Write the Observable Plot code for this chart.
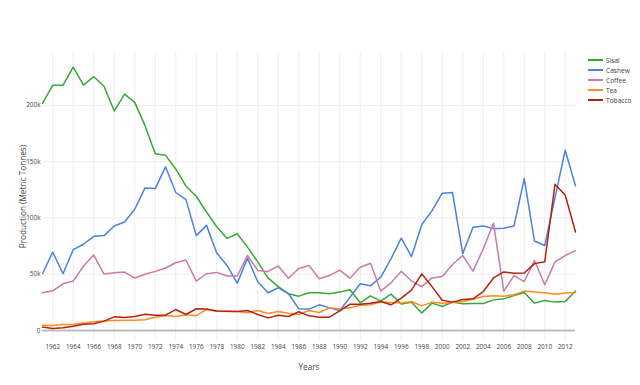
<!DOCTYPE html>
<html>
<head>
<meta charset="utf-8">
<script src="https://cdn.jsdelivr.net/npm/d3@7"></script>
<script src="https://cdn.jsdelivr.net/npm/@observablehq/plot@0.6"></script>
<style>
  html, body { margin: 0; padding: 0; background: #fff; }
  #wrap { position: relative; width: 640px; height: 385px; font-family: "Open Sans", sans-serif; }
  #legend { position: absolute; left: 588px; top: 55px; font-size: 6.6px; color: #444; }
  .item { display: flex; align-items: center; height: 10.1px; }
  .swatch { width: 15px; height: 2px; margin-right: 3px; }
  g[aria-label="x-axis label"] text, g[aria-label="y-axis label"] text { font-size: 8.2px; }
</style>
</head>
<body>
<div id="wrap"><div id="legend"></div></div>
<script>
const years = d3.range(1961, 2014);
const seriesNames = ["Sisal", "Cashew", "Coffee", "Tea", "Tobacco"];
const seriesColors = ["#35a835", "#4a82e0", "#cc7aa6", "#ff8c1e", "#b3230f"];
const xTicks = [1962,1964,1966,1968,1970,1972,1974,1976,1978,1980,1982,1984,1986,1988,1990,1992,1994,1996,1998,2000,2002,2004,2006,2008,2010,2012];
const yTicks = [0, 50, 100, 150, 200];

// values in thousands of metric tonnes, 1961..2013
const sisal = [201.8,218,218,234,218,225.5,217,195,210,202.7,182,157,155.6,143.5,128.2,119.3,105.3,92.2,81.8,85.9,74.1,61,46.7,39,32.6,30.5,33.5,33.5,32.6,34.1,36.2,24.6,30.8,26.1,32.3,23.5,25,15.6,24.3,21.3,25.2,23.7,24,24,27.2,28.1,31.1,33.8,24.3,26.6,25.2,25.8,35];
const cashew = [50.4,69.7,50.4,71.8,76.6,83.7,84.3,92.9,96.4,107.7,126.7,126.1,145.4,122.6,116.3,84.3,93.4,68.8,57.8,42,64.3,43.3,33.5,38,32.6,19.2,19,22.8,20.1,17.8,29.6,41.5,39.7,47.4,63.7,82,65.7,94,106.5,122,122.5,68.3,91.7,92.9,90.5,90.8,92.9,135,79.5,75.5,118,160.2,128.5];
const coffee = [33.5,35.3,41.5,43.9,57.3,67,50.1,51.3,51.9,46.6,49.9,52.5,55.5,60.2,62.6,43.9,50.4,51.6,48.4,48.4,66.8,53.4,52.5,57.3,46.4,55.1,57.7,45.9,48.8,53.6,46.5,56.2,59.8,34.9,42.3,52.7,44,39,46.7,48,58.6,66.6,52.7,72.5,95.3,34.9,48.8,43.5,62.2,40.6,61,66.6,71];
const tea = [4.7,4.5,5.4,5.4,6.6,7.8,8.4,8.9,9.1,9.1,9.6,11.8,13.3,12.4,13.9,13,18.7,17.1,16.9,16.9,15.7,17.8,15.1,16.9,15.4,14.2,17.8,16,20.1,19.2,20.1,22.5,22.8,25.2,24.9,24.5,25.8,21.9,25.2,24.3,24.9,25.8,27.8,30.2,30.8,30.5,31.7,35,34.3,33.5,32.3,33.2,33.8];
const tobacco = [3,1.8,2.4,3.8,5.6,5.9,8.3,12.1,11.5,12.4,14.5,13.6,13.6,18.6,14.2,19.3,19,17.3,17.1,16.9,17.8,14.2,11.2,13.6,12.4,16.6,13,11.8,11.8,17.5,23.4,23.4,24.3,25.8,22.8,28.7,35.8,50.3,39,26.9,25.2,27.5,28.1,34.6,46.7,52,50.9,51.1,59.4,61,130,120.2,87.5];

const seriesValues = [sisal, cashew, coffee, tea, tobacco];
const rows = [];
seriesNames.forEach((name, i) => {
  seriesValues[i].forEach((v, j) => rows.push({series: name, year: years[j], value: v}));
});

const chart = Plot.plot({
  width: 640,
  height: 385,
  marginLeft: 42,
  marginRight: 65,
  marginTop: 52,
  marginBottom: 45,
  style: {fontFamily: "'Open Sans', sans-serif", fontSize: "6.4px", color: "#444", background: "white", overflow: "visible"},
  x: {domain: [1961, 2013]},
  y: {domain: [-8.9, 247]},
  color: {domain: seriesNames, range: seriesColors},
  marks: [
    Plot.gridX(xTicks, {stroke: "#eeeeee", strokeOpacity: 1}),
    Plot.gridY(yTicks.filter(d => d !== 0), {stroke: "#eeeeee", strokeOpacity: 1}),
    Plot.ruleY([0], {stroke: "#bdbdbd", strokeWidth: 2}),
    Plot.axisX(xTicks, {tickSize: 0, tickPadding: 4, tickFormat: d => String(d), label: "Years", labelAnchor: "center", labelOffset: 29, labelArrow: false}),
    Plot.axisY(yTicks, {tickSize: 0, tickPadding: 2, tickFormat: d => d === 0 ? "0" : d + "k", label: "Production (Metric Tonnes)", labelAnchor: "center", labelOffset: 22, labelArrow: false}),
    Plot.line(rows, {x: "year", y: "value", z: "series", stroke: "series", strokeWidth: 1.5})
  ]
});
document.getElementById("wrap").prepend(chart);

const legend = d3.select("#legend");
seriesNames.forEach((name, i) => {
  const it = legend.append("div").attr("class", "item");
  it.append("div").attr("class", "swatch").style("background", seriesColors[i]);
  it.append("span").text(name);
});
</script>
</body>
</html>
